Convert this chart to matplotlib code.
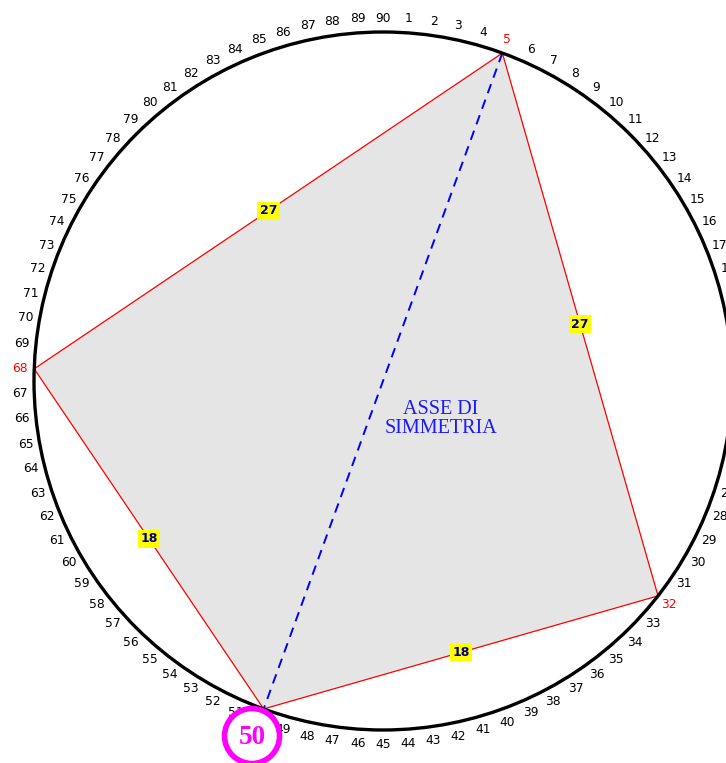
import matplotlib
matplotlib.use('Agg')

import matplotlib.pyplot as plt
from matplotlib.patches import Circle, Polygon
import numpy as np

# numbers around the wheel, and the four picked ones (in drawing order)
numbers = list(range(1, 91))
picked = [5, 32, 50, 68]
# distances written on each side: 5-32, 32-50, 50-68, 68-5
side_labels = ["27", "18", "18", "27"]
axis_ends = [5, 50]
axis_text = "ASSE DI\nSIMMETRIA"
circled = 50

# layout (pixels)
W, H = 726, 763
cx, cy, R = 383, 381, 349
R_lab = 363


def pos(n, r):
    a = np.radians(4 * n)
    return cx + r * np.sin(a), cy - r * np.cos(a)


fig = plt.figure(figsize=(W / 100, H / 100), dpi=100)
ax = fig.add_axes([0, 0, 1, 1])
ax.set_xlim(0, W)
ax.set_ylim(H, 0)
ax.axis('off')

pts = [pos(n, R) for n in picked]
ax.add_patch(Polygon(pts, closed=True, facecolor="#e5e5e5", edgecolor="red", lw=0.9, zorder=1))

(x1, y1), (x2, y2) = pos(axis_ends[0], R), pos(axis_ends[1], R)
ax.plot([x1, x2], [y1, y2], color="#0000ff", lw=1.4, ls=(0, (5, 3.5)), zorder=2)

ax.add_patch(Circle((cx, cy), R, fill=False, edgecolor="black", lw=2.4, zorder=3))

for n in numbers:
    x, y = pos(n, R_lab)
    col = "red" if n in picked else "black"
    ax.text(x, y, str(n), ha="center", va="center", fontsize=8.8, color=col,
            family="DejaVu Sans", zorder=4)

for i, lab in enumerate(side_labels):
    (xa, ya), (xb, yb) = pts[i], pts[(i + 1) % len(pts)]
    ax.text((xa + xb) / 2, (ya + yb) / 2, lab, ha="center", va="center",
            fontsize=9, fontweight="bold", color="#000080", family="DejaVu Sans",
            bbox=dict(boxstyle="square,pad=0.2", facecolor="yellow", edgecolor="none"),
            zorder=5)

ax.text(441, 419, axis_text, ha="center", va="center", fontsize=14.5,
        color="#1a1aff", family="Liberation Serif", linespacing=1.0, zorder=5)

# magenta ring round the highlighted number
ax.add_patch(Circle((252, 736), 27.5, facecolor="white", edgecolor="#ff00ff", lw=4, zorder=6))
ax.text(252, 737, str(circled), ha="center", va="center", fontsize=19.5,
        fontweight="bold", color="#ff00ff", family="Liberation Serif", zorder=7)

plt.savefig("out.png", dpi=100)
